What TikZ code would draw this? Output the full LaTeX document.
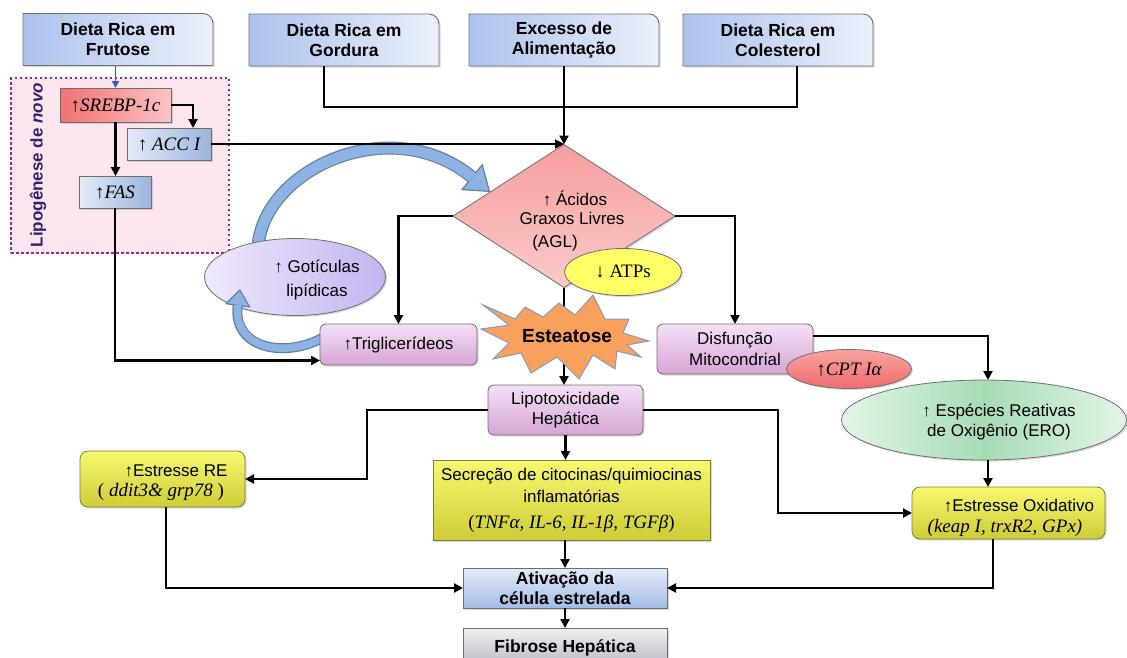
\documentclass[tikz,border=0pt]{standalone}
\usepackage{fontspec}
\setmainfont{Liberation Sans}
\newfontfamily\tms{Liberation Serif}
\usetikzlibrary{arrows.meta,shapes.geometric,backgrounds,calc,shadows}
\definecolor{topL}{HTML}{AEC2EE}
\definecolor{topR}{HTML}{EBF0FB}
\definecolor{lipoF}{HTML}{FCE6EE}
\definecolor{lipoD}{HTML}{8B2B8B}
\definecolor{lipoT}{HTML}{33206B}
\definecolor{redL}{HTML}{F27272}
\definecolor{redR}{HTML}{FBC3C3}
\definecolor{bluL}{HTML}{E4EBF8}
\definecolor{bluR}{HTML}{9BB4DE}
\definecolor{dmT}{HTML}{F59E9E}
\definecolor{dmB}{HTML}{FBCACA}
\definecolor{lilT}{HTML}{F4E0F4}
\definecolor{lilB}{HTML}{D5A5D5}
\definecolor{gotL}{HTML}{EFE9FC}
\definecolor{gotR}{HTML}{C4B4F0}
\definecolor{eroE}{HTML}{E2F5E7}
\definecolor{eroM}{HTML}{A6DCB4}
\definecolor{yelT}{HTML}{F8F870}
\definecolor{yelB}{HTML}{CDCD38}
\definecolor{yelD}{HTML}{7E7E30}
\definecolor{atiT}{HTML}{E4ECF9}
\definecolor{atiB}{HTML}{A2BCE6}
\definecolor{fibT}{HTML}{F0F0F2}
\definecolor{fibB}{HTML}{B4B7C3}
\definecolor{cptT}{HTML}{F9A3A3}
\definecolor{cptB}{HTML}{EF6C6C}
\definecolor{atpY}{HTML}{FFFF66}
\definecolor{estO}{HTML}{F9A05C}
\definecolor{estD}{HTML}{7E9CC6}
\definecolor{cbl}{HTML}{8DB3E2}
\definecolor{cblD}{HTML}{5F80A9}
\definecolor{arrB}{HTML}{2F5FB0}
\definecolor{edgeG}{HTML}{6E6E6E}
\newcommand\myit{\fontsize{19}{22}\selectfont\tms\itshape}
\newcommand\myrm{\fontsize{19}{22}\selectfont\tms}
\begin{document}
\begin{tikzpicture}[x=1pt,y=1pt,
 every node/.style={inner sep=0pt,outer sep=0pt},
 txt/.style={font=\fontsize{17}{20.5}\selectfont, align=center},
 btxt/.style={font=\fontsize{17.5}{20}\selectfont\bfseries, align=center},
 shd/.style={drop shadow={shadow xshift=1.5pt,shadow yshift=-1.5pt,opacity=0.3}},
 tb/.style={btxt, minimum width=190pt, minimum height=52pt},
 topbox/.style={left color=topL, right color=topR, draw=edgeG, line width=0.9pt, shd},
 redbox/.style={left color=redL, right color=redR, draw=edgeG, line width=0.8pt, shd, font=\myit},
 blubox/.style={left color=bluL, right color=bluR, draw=edgeG, line width=0.8pt, shd, font=\myit},
 lilbox/.style={top color=lilT, bottom color=lilB, draw=edgeG, line width=0.8pt, rounded corners=6pt, shd, txt},
 yelbox/.style={top color=yelT, bottom color=yelB, draw=yelD, line width=0.8pt, rounded corners=8pt, shd},
 conn/.style={draw=black, line width=2.2pt, -{Triangle[width=9pt,length=9pt]}},
 plainln/.style={draw=black, line width=2.2pt},
]
\useasboundingbox (0,0) rectangle (1127,-657);

% top boxes
\node[tb] (fru) at (118,-39.5) {Dieta Rica em\\Frutose};
\node[tb] (gor) at (344,-40) {Dieta Rica em\\Gordura};
\node[tb] (exc) at (564,-40) {Excesso de\\Alimentação};
\node[tb] (col) at (778,-40) {Dieta Rica em\\Colesterol};
\begin{scope}[on background layer]
 \foreach \n in {fru,gor,exc,col}{
  \path[topbox] (\n.south west) -- (\n.north west) -- ([xshift=-10pt]\n.north east) arc[start angle=90,end angle=0,radius=10pt] -- (\n.south east) -- cycle;
 }
\end{scope}

% lipogenese region
\node[draw=lipoD, fill=lipoF, line width=2.5pt, dash pattern=on 2.5pt off 2.5pt, minimum width=218pt, minimum height=175pt] (lipo) at (120,-165.5) {};
\node[rotate=90, font=\fontsize{17}{20}\selectfont\bfseries, text=lipoT] (lipol) at (38,-165) {Lipogênese de \textit{novo}};
\node[redbox, minimum width=111pt, minimum height=34pt] (srebp) at (115.5,-105) {↑SREBP-1c};
\node[blubox, minimum width=84pt, minimum height=32pt] (acc) at (169,-144) {↑ ACC I};
\node[blubox, minimum width=72pt, minimum height=32pt] (fas) at (115,-192) {↑FAS};

% diamond
\node[diamond, top color=dmT, bottom color=dmB, draw=edgeG, line width=0.8pt, minimum width=222pt, minimum height=143pt, shd] (agl) at (564,-216) {};
\node[txt] (agl1) at (575,-198) {↑ Ácidos};
\node[txt] (agl2) at (572,-218) {Graxos Livres};
\node[txt] (agl3) at (555,-243) {(AGL)};

% big curved arrow
\coordinate (gs) at (258,-248);
\draw[draw=cblD, line width=13pt, -{Triangle[width=34pt,length=24pt,fill=cbl,line width=1.2pt]}] (gs) .. controls (262,-170) and (390,-110) .. (agl.162);
\draw[draw=cbl, line width=10.5pt, shorten >=23pt] (gs) .. controls (262,-170) and (390,-110) .. (agl.162);

\node[ellipse, left color=gotL, right color=gotR, draw=edgeG, line width=0.8pt, minimum width=181pt, minimum height=77pt, shd] (got) at (295,-277) {};
\node[txt, font=\fontsize{17}{24}\selectfont] (gott) at (317,-280) {↑ Gotículas\\lipídicas};
\coordinate (gotin) at (240,-289);

\node[ellipse, fill=atpY, draw=edgeG, line width=0.8pt, minimum width=117pt, minimum height=47pt, font=\myrm, shd] (atp) at (623,-272) {↓ ATPs};

% small curved arrow
\coordinate (ts) at (326,-336);
\draw[draw=cblD, line width=10pt, -{Triangle[width=26pt,length=17pt,fill=cbl,line width=1.2pt]}] (ts) .. controls (285,-360) and (232,-348) .. (gotin);
\draw[draw=cbl, line width=7.5pt, shorten >=16pt] (ts) .. controls (285,-360) and (232,-348) .. (gotin);

\node[lilbox, minimum width=157pt, minimum height=41pt] (tri) at (398.5,-344.5) {↑Triglicerídeos};
\node[lilbox, minimum width=156pt, minimum height=50pt] (dis) at (735,-349) {Disfunção\\Mitocondrial};
\node[ellipse, top color=cptT, bottom color=cptB, draw=edgeG, line width=0.8pt, minimum width=125pt, minimum height=39pt, font=\myit, shd] (cpt) at (849,-369) {↑CPT Iα};

\node[ellipse, left color=eroE, right color=eroE, middle color=eroM, draw=edgeG, line width=0.8pt, minimum width=285pt, minimum height=80pt, shd] (ero) at (984,-420) {};
\node[txt] (erot) at (999,-422) {↑ Espécies Reativas\\de Oxigênio (ERO)};

\node[lilbox, minimum width=155pt, minimum height=50pt] (lip) at (565.5,-410) {Lipotoxicidade\\Hepática};

\node[yelbox, minimum width=165pt, minimum height=56pt] (ere) at (162.5,-479) {};
\node[txt] (ere1) at (176,-471) {↑Estresse RE};
\node[font=\myrm] (ere2) at (161,-492) {( \textit{ddit3\& grp78} )};

\node[yelbox, minimum width=193pt, minimum height=52pt] (eox) at (1008.5,-513) {};
\node[txt] (eox1) at (1019,-506) {↑Estresse Oxidativo};
\node[font=\myit] (eox2) at (1005,-528) {(keap I, trxR2, GPx)};

\node[top color=yelT, bottom color=yelB, draw=yelD, line width=0.8pt, minimum width=277pt, minimum height=80pt, shd, txt, font=\fontsize{17}{22}\selectfont] (sec) at (571.5,-500) {Secreção de citocinas/quimiocinas\\inflamatórias\\[4pt]{\myrm (\textit{TNFα, IL-6, IL-1β, TGFβ})}};

\node[top color=atiT, bottom color=atiB, draw=edgeG, line width=0.8pt, minimum width=204pt, minimum height=40pt, shd, btxt] (ati) at (565,-588) {Ativação da\\célula estrelada};
\node[top color=fibT, bottom color=fibB, draw=edgeG, line width=0.8pt, minimum width=204pt, minimum height=40pt, shd, btxt] (fib) at (565,-648) {Fibrose Hepática};

% connectors
\draw[draw=arrB, line width=1.6pt, -{Triangle[width=7pt,length=7pt]}] (srebp.north |- fru.south) -- (srebp.north);
\draw[conn] (srebp.east) -| ([xshift=24pt]acc.north);
\draw[conn] (srebp.south) -- (srebp.south |- fas.north);
\draw[conn] (acc.east) -- (agl.north |- acc.east);
\draw[conn] (exc.south) -- (agl.north);
\coordinate (g1) at ([xshift=-20pt]gor.south);
\coordinate (c1) at ([xshift=19pt]col.south);
\coordinate (jn) at (797,-107);
\draw[plainln] (g1) |- (jn) -- (c1);
\draw[conn] (agl.west) -| (tri.north);
\draw[conn] (agl.east) -| (dis.north);
\draw[conn] (fas.south) |- ([yshift=-16pt]tri.west);
\draw[conn] ([yshift=13pt]dis.east) -| ([xshift=4pt]ero.north);
\draw[conn] ([xshift=4pt]ero.south) -- ([xshift=4pt]ero.south |- eox.north);
\coordinate (kL) at (367,-410);
\coordinate (kR) at (778,-410);
\draw[conn] (lip.west) -- (kL) |- (ere.east);
\draw[conn] (lip.east) -- (kR) |- (eox.west);
\draw[conn] (lip.south) -- (lip.south |- sec.north);
\draw[conn] (ati.north |- sec.south) -- (ati.north);
\draw[conn] (ati.south) -- (fib.north);
\draw[conn] ([xshift=3.5pt]ere.south) |- (ati.west);
\draw[conn] ([xshift=-15.5pt]eox.south) |- (ati.east);

% steatosis
\draw[conn] (agl.south) -- (agl.south |- lip.north);
\begin{scope}[shift={(567,-337)}]
\draw[fill=estO, draw=estD, line width=1pt, line join=miter] (82,-4) -- (56,4) -- (62,18) -- (38,18) -- (26,42) -- (8,22) -- (-8,34) -- (-24,20) -- (-42,30) -- (-52,18) -- (-84,32) -- (-58,12) -- (-86,8) -- (-58,-6) -- (-74,-22) -- (-46,-16) -- (-36,-36) -- (-10,-20) -- (12,-42) -- (26,-18) -- (48,-32) -- (50,-14) -- (74,-20) -- (60,-8) -- cycle;
\end{scope}
\node[font=\fontsize{19}{22}\selectfont\bfseries] (est) at (567,-336) {Esteatose};
\end{tikzpicture}
\end{document}
